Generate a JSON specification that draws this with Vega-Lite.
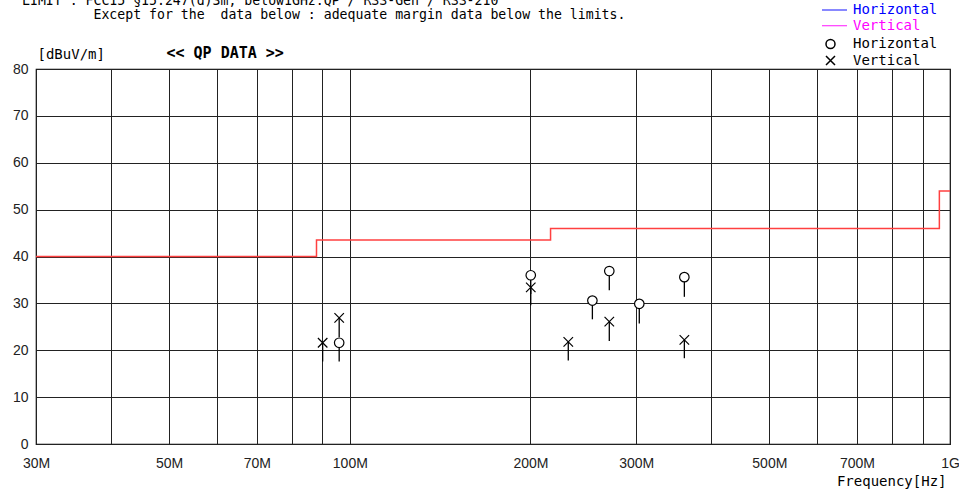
{
  "$schema": "https://vega.github.io/schema/vega-lite/v6.json",
  "width": 914,
  "height": 375,
  "autosize": {"type": "none"},
  "padding": {"left": 36, "top": 69, "right": 9, "bottom": 46},
  "background": "white",
  "config": {
    "view": {"stroke": "black", "strokeWidth": 1.2},
    "axis": {
      "labelFont": "Liberation Sans",
      "labelFontSize": 14,
      "labelColor": "#222",
      "ticks": false,
      "domain": false,
      "grid": true,
      "gridColor": "#222",
      "gridWidth": 1,
      "titleFont": "DejaVu Sans Mono",
      "titleFontSize": 14,
      "titleFontWeight": "normal",
      "titleColor": "black"
    },
    "legend": {
      "labelFont": "DejaVu Sans Mono",
      "labelFontSize": 14,
      "labelColor": "black"
    }
  },
  "title": {
    "text": [
      "LIMIT : FCC15 §15.247(d)3m, below1GHz:QP / RSS-Gen / RSS-210",
      "\u200b\u00a0\u00a0\u00a0\u00a0\u00a0\u00a0\u00a0\u00a0\u00a0Except for the\u00a0\u00a0data below : adequate margin data below the limits."
    ],
    "subtitle": "\u200b\u00a0\u00a0\u00a0\u00a0\u00a0\u00a0\u00a0\u00a0\u00a0\u00a0\u00a0\u00a0\u00a0\u00a0\u00a0\u00a0<< QP DATA >>",
    "anchor": "start",
    "frame": "group",
    "orient": "top",
    "font": "DejaVu Sans Mono",
    "fontSize": 13.2,
    "fontWeight": "normal",
    "color": "black",
    "lineHeight": 14,
    "subtitleFont": "DejaVu Sans Mono",
    "subtitleFontSize": 15,
    "subtitleFontWeight": "bold",
    "subtitleColor": "black",
    "subtitlePadding": 24,
    "dx": -14,
    "dy": 59,
    "offset": 0
  },
  "datasets": {
    "limit": [
      {"i": 0, "f": 30, "v": 40},
      {"i": 1, "f": 88, "v": 40},
      {"i": 2, "f": 88, "v": 43.5},
      {"i": 3, "f": 216, "v": 43.5},
      {"i": 4, "f": 216, "v": 46},
      {"i": 5, "f": 960, "v": 46},
      {"i": 6, "f": 960, "v": 54},
      {"i": 7, "f": 1000, "v": 54}
    ],
    "qp": [
      {"f": 96.0, "v": 21.6, "low": 17.6, "pol": "Horizontal"},
      {"f": 200.2, "v": 36.0, "low": 32.0, "pol": "Horizontal"},
      {"f": 253.6, "v": 30.6, "low": 26.6, "pol": "Horizontal"},
      {"f": 270.6, "v": 36.9, "low": 32.8, "pol": "Horizontal"},
      {"f": 303.6, "v": 29.9, "low": 25.7, "pol": "Horizontal"},
      {"f": 360.9, "v": 35.6, "low": 31.4, "pol": "Horizontal"},
      {"f": 90.1, "v": 21.6, "low": 17.6, "pol": "Vertical"},
      {"f": 96.0, "v": 26.9, "low": 22.8, "pol": "Vertical"},
      {"f": 200.2, "v": 33.4, "low": 29.6, "pol": "Vertical"},
      {"f": 231.2, "v": 21.8, "low": 17.8, "pol": "Vertical"},
      {"f": 270.6, "v": 26.1, "low": 22.0, "pol": "Vertical"},
      {"f": 360.9, "v": 22.2, "low": 18.3, "pol": "Vertical"}
    ]
  },
  "layer": [
    {
      "data": {"name": "limit"},
      "mark": {"type": "line", "color": "#ff4040", "strokeWidth": 1.5, "interpolate": "linear"},
      "encoding": {
        "x": {
          "field": "f",
          "type": "quantitative",
          "scale": {"type": "log", "domain": [30, 1000], "nice": false},
          "axis": {
            "values": [30, 40, 50, 60, 70, 80, 90, 100, 200, 300, 400, 500, 600, 700, 800, 900, 1000],
            "labelExpr": "indexof([30,50,70,100,200,300,500,700], datum.value) >= 0 ? datum.value + 'M' : (datum.value == 1000 ? '1G' : '')",
            "labelPadding": 12,
            "labelFlush": false,
            "labelOverlap": false,
            "title": "Frequency[Hz]",
            "titleX": 910,
            "titleY": 41,
            "titleAlign": "right",
            "titleAnchor": null,
            "titleBaseline": "alphabetic"
          }
        },
        "y": {
          "field": "v",
          "type": "quantitative",
          "scale": {"domain": [0, 80], "nice": false},
          "axis": {
            "values": [0, 10, 20, 30, 40, 50, 60, 70, 80],
            "labelPadding": 8,
            "labelFlush": false,
            "title": "[dBuV/m]",
            "titleAngle": 0,
            "titleX": 1,
            "titleY": -11,
            "titleAlign": "left",
            "titleBaseline": "alphabetic"
          }
        },
        "order": {"field": "i", "type": "quantitative"}
      }
    },
    {
      "data": {"values": []},
      "mark": {"type": "line", "strokeWidth": 1.5},
      "encoding": {
        "x": {"field": "f", "type": "quantitative"},
        "y": {"field": "v", "type": "quantitative"},
        "color": {
          "field": "trace",
          "type": "nominal",
          "scale": {"domain": ["H", "V"], "range": ["#3a3aff", "#ff3aff"]},
          "legend": {
            "title": null,
            "orient": "none",
            "legendX": 791.5,
            "legendY": -66,
            "symbolType": "M-2.5,0H2.5",
            "symbolSize": 100,
            "symbolStrokeWidth": 1.2,
            "labelOffset": 11.5,
            "rowPadding": 1.7,
            "labelExpr": "datum.value === 'H' ? 'Horizontal' : 'Vertical'",
            "encode": {
              "labels": {"update": {"fill": {"signal": "datum.value === 'H' ? '#0000ff' : '#ff00ff'"}}}
            }
          }
        }
      }
    },
    {
      "data": {"name": "qp"},
      "mark": {"type": "rule", "color": "black", "strokeWidth": 1.3},
      "encoding": {
        "x": {"field": "f", "type": "quantitative"},
        "y": {"field": "v", "type": "quantitative"},
        "y2": {"field": "low"}
      }
    },
    {
      "data": {"name": "qp"},
      "mark": {"type": "point", "stroke": "black", "fill": "white", "fillOpacity": 1, "strokeWidth": 1.2, "size": 90, "opacity": 1},
      "encoding": {
        "x": {"field": "f", "type": "quantitative"},
        "y": {"field": "v", "type": "quantitative"},
        "shape": {
          "field": "pol",
          "type": "nominal",
          "scale": {"domain": ["Horizontal", "Vertical"], "range": ["circle", "M-1,-1L1,1M-1,1L1,-1"]},
          "legend": {
            "title": null,
            "orient": "none",
            "legendX": 787.5,
            "legendY": -32,
            "symbolSize": 81,
            "labelOffset": 15.5,
            "rowPadding": 0.5,
            "encode": {
              "symbols": {
                "update": {
                  "stroke": {"value": "black"},
                  "fill": {"value": "transparent"},
                  "strokeWidth": {"value": 1.2},
                  "opacity": {"value": 1},
                  "strokeOpacity": {"value": 1}
                }
              }
            }
          }
        }
      }
    }
  ]
}
